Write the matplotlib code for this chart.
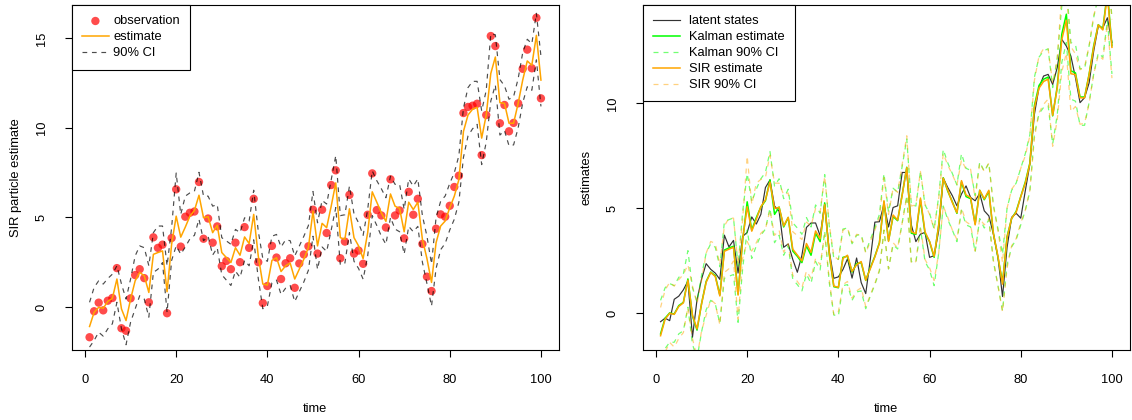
import matplotlib
matplotlib.use('Agg')
import matplotlib.pyplot as plt
import numpy as np

plt.rcParams['font.family'] = ['Liberation Sans', 'DejaVu Sans']
FS = 9.3

time = np.arange(1, 101)

# observaciones (panel izquierdo)
obs = [-1.69, -0.24, 0.24, -0.19, 0.35, 0.50, 2.17, -1.19, -1.33, 0.48,
       1.78, 2.11, 1.61, 0.26, 3.89, 3.30, 3.48, -0.35, 3.85, 6.57,
       3.37, 5.04, 5.26, 5.33, 6.98, 3.81, 4.94, 3.59, 4.50, 2.28,
       2.57, 2.11, 3.59, 2.50, 4.46, 3.30, 6.04, 2.50, 0.22, 1.17,
       3.41, 2.76, 1.56, 2.44, 2.72, 1.07, 2.43, 2.93, 3.39, 5.43,
       2.98, 5.43, 4.13, 6.81, 7.63, 2.72, 3.65, 6.26, 2.98, 3.15,
       2.41, 5.15, 7.46, 5.41, 5.11, 4.44, 7.13, 5.11, 5.39, 3.83,
       6.43, 5.15, 6.04, 3.52, 1.69, 0.89, 4.37, 5.17, 5.04, 5.65,
       6.70, 7.33, 10.83, 11.17, 11.24, 11.35, 8.48, 10.72, 15.13, 14.57,
       10.26, 11.28, 9.81, 10.28, 11.37, 13.30, 14.37, 13.33, 16.15, 11.65]

# estimacion SIR y su IC 90%
sir_est = [-1.09, -0.30, -0.02, -0.07, 0.31, 0.48, 1.56, -0.11, -0.76, 0.44,
           1.46, 1.93, 1.74, 0.81, 2.94, 3.04, 3.13, 0.85, 3.50, 5.07,
           3.90, 4.46, 5.07, 5.39, 6.24, 4.98, 5.04, 4.15, 4.56, 3.04,
           2.76, 2.48, 3.31, 2.89, 3.91, 3.54, 5.17, 2.85, 1.28, 1.22,
           2.60, 2.75, 1.98, 2.30, 2.45, 1.56, 2.11, 2.67, 3.32, 5.35,
           3.41, 4.67, 4.43, 5.63, 6.93, 3.87, 3.78, 5.48, 3.87, 3.41,
           2.70, 4.15, 6.43, 5.85, 5.26, 4.78, 6.31, 5.63, 5.50, 4.20,
           5.85, 5.44, 5.85, 3.78, 2.70, 1.37, 3.59, 4.52, 4.80, 5.54,
           6.19, 7.11, 9.80, 10.72, 11.04, 11.15, 9.43, 10.72, 13.04, 13.96,
           11.41, 11.37, 10.26, 10.26, 11.37, 12.67, 13.74, 13.50, 15.17, 12.67]
sir_lo = [-2.24, -1.87, -1.41, -1.63, -1.22, -0.94, 0.26, -1.22, -2.11, -0.85,
          -0.11, 0.63, 0.44, -0.57, 1.93, 2.11, 2.48, -0.30, 2.60, 3.41,
          2.95, 3.35, 3.80, 4.00, 4.90, 3.70, 3.95, 2.90, 3.30, 1.80,
          1.50, 1.20, 2.00, 1.65, 2.60, 2.30, 3.75, 1.60, -0.10, 0.05,
          1.35, 1.50, 0.70, 1.05, 1.20, 0.30, 0.85, 1.40, 2.05, 3.95,
          2.10, 3.35, 3.10, 4.30, 5.55, 2.35, 2.45, 4.15, 2.55, 2.15,
          1.55, 2.85, 5.10, 4.55, 3.95, 3.50, 5.00, 4.35, 4.20, 2.95,
          4.50, 4.20, 4.50, 2.50, 1.30, 0.05, 2.15, 3.20, 3.55, 4.30,
          4.90, 5.85, 8.35, 9.55, 9.95, 10.20, 7.95, 9.20, 11.50, 12.40,
          9.60, 9.85, 9.00, 9.05, 10.00, 11.40, 12.30, 12.10, 13.80, 11.20]
sir_hi = [0.26, 1.09, 1.46, 1.28, 1.59, 1.83, 2.30, 1.28, 0.44, 1.56,
          2.85, 3.41, 3.31, 2.30, 4.15, 4.52, 4.52, 2.30, 4.43, 7.48,
          5.17, 6.19, 6.37, 6.46, 7.52, 6.19, 6.19, 5.63, 5.72, 3.87,
          3.69, 3.50, 4.33, 4.15, 4.98, 4.80, 6.52, 4.24, 2.70, 2.55,
          3.95, 4.05, 3.35, 3.75, 3.70, 2.85, 3.40, 3.95, 4.55, 6.45,
          4.70, 5.95, 5.75, 7.10, 8.45, 5.10, 5.15, 6.75, 5.20, 4.70,
          4.00, 5.45, 7.60, 7.05, 6.60, 6.10, 7.30, 6.85, 6.85, 5.45,
          7.15, 6.75, 7.15, 5.10, 3.95, 2.40, 5.00, 5.90, 6.20, 6.90,
          7.50, 8.45, 11.10, 12.25, 12.60, 12.60, 10.95, 12.10, 15.25, 15.20,
          12.70, 12.35, 11.60, 11.75, 12.75, 14.20, 14.95, 14.70, 16.40, 14.00]

# estados latentes y filtro de Kalman (panel derecho)
latent = [-0.42, -0.25, -0.37, 0.65, 0.80, 1.10, 1.52, -1.16, 0.63, 1.62,
          2.35, 2.08, 1.90, 1.60, 3.71, 3.15, 3.46, 1.90, 3.65, 3.84,
          4.58, 4.24, 4.70, 5.98, 6.34, 5.10, 4.85, 3.13, 3.29, 2.55,
          1.94, 2.75, 4.08, 4.29, 4.29, 3.68, 5.19, 2.95, 1.65, 1.72,
          2.07, 2.58, 1.66, 2.62, 1.45, 0.92, 2.55, 4.33, 4.35, 5.17,
          4.10, 5.03, 5.11, 6.70, 6.70, 4.20, 3.40, 3.76, 3.84, 2.65,
          2.73, 3.92, 6.43, 5.98, 5.59, 5.11, 5.67, 6.06, 5.51, 5.35,
          5.70, 4.87, 4.63, 3.76, 2.65, 0.78, 3.13, 4.56, 4.75, 4.52,
          5.83, 7.10, 9.48, 10.75, 11.30, 11.38, 10.90, 11.70, 13.05, 12.73,
          12.25, 11.22, 10.03, 10.27, 10.98, 12.49, 13.68, 13.60, 14.08, 12.90]
kal_est = [-1.00, -0.25, 0.00, -0.05, 0.35, 0.50, 1.62, -0.15, -0.82, 0.45,
           1.50, 1.95, 1.78, 0.85, 3.00, 3.10, 3.18, 0.90, 3.45, 5.30,
           3.95, 4.55, 5.05, 5.35, 6.35, 4.70, 5.05, 4.10, 4.55, 2.95,
           2.70, 2.40, 3.20, 2.75, 3.80, 3.40, 5.25, 2.80, 1.25, 1.20,
           2.65, 2.70, 1.95, 2.35, 2.40, 1.55, 2.15, 2.70, 3.35, 5.30,
           3.45, 4.60, 4.40, 5.65, 6.95, 3.80, 3.75, 5.40, 3.80, 3.40,
           2.65, 4.20, 6.45, 5.80, 5.30, 4.75, 6.25, 5.55, 5.45, 4.25,
           5.85, 5.40, 5.80, 3.80, 2.65, 1.45, 3.65, 4.50, 4.85, 5.55,
           6.25, 7.15, 9.90, 10.85, 11.15, 11.25, 9.40, 10.80, 13.30, 14.25,
           11.55, 11.45, 10.30, 10.30, 11.40, 12.75, 13.75, 13.55, 15.30, 12.75]
kal_lo = [-2.60, -1.70, -1.40, -1.40, -1.00, -0.85, 0.27, -1.50, -2.17, -0.90,
          0.15, 0.60, 0.43, -0.50, 1.65, 1.75, 1.83, -0.45, 2.10, 3.95,
          2.60, 3.20, 3.70, 4.00, 5.00, 3.35, 3.70, 2.75, 3.20, 1.60,
          1.35, 1.05, 1.85, 1.40, 2.45, 2.05, 3.90, 1.45, -0.10, -0.15,
          1.30, 1.35, 0.60, 1.00, 1.05, 0.20, 0.80, 1.35, 2.00, 3.95,
          2.10, 3.25, 3.05, 4.30, 5.60, 2.45, 2.40, 4.05, 2.45, 2.05,
          1.30, 2.85, 5.10, 4.45, 3.95, 3.40, 4.90, 4.20, 4.10, 2.90,
          4.50, 4.05, 4.45, 2.45, 1.30, 0.10, 2.30, 3.15, 3.50, 4.20,
          4.90, 5.80, 8.55, 9.50, 9.80, 9.90, 8.05, 9.45, 11.95, 12.90,
          10.20, 10.10, 8.95, 8.95, 10.05, 11.40, 12.40, 12.20, 13.95, 11.40]
kal_hi = [0.60, 1.20, 1.40, 1.30, 1.70, 1.85, 2.97, 1.20, 0.53, 1.80,
          2.85, 3.30, 3.13, 2.20, 4.35, 4.45, 4.53, 2.25, 4.80, 6.65,
          5.30, 5.90, 6.40, 6.70, 7.70, 6.05, 6.40, 5.45, 5.90, 4.30,
          4.05, 3.75, 4.55, 4.10, 5.15, 4.75, 6.60, 4.15, 2.60, 2.55,
          4.00, 4.05, 3.30, 3.70, 3.75, 2.90, 3.50, 4.05, 4.70, 6.65,
          4.80, 5.95, 5.75, 7.00, 8.30, 5.15, 5.10, 6.75, 5.15, 4.75,
          4.00, 5.55, 7.80, 7.15, 6.65, 6.10, 7.60, 6.90, 6.80, 5.60,
          7.20, 6.75, 7.15, 5.15, 4.00, 2.80, 5.00, 5.85, 6.20, 6.90,
          7.60, 8.50, 11.25, 12.20, 12.50, 12.60, 10.75, 12.15, 14.65, 15.60,
          12.90, 12.80, 11.65, 11.65, 12.75, 14.10, 15.10, 14.90, 16.65, 14.10]


def r_range(vals):
    lo, hi = min(vals), max(vals)
    d = 0.04 * (hi - lo)
    return lo - d, hi + d


def estilo_r(ax, yticks, ylabel):
    ax.set_xlim(r_range(list(time)))
    ax.set_xticks([0, 20, 40, 60, 80, 100])
    ax.set_yticks(yticks)
    for sp in ax.spines.values():
        sp.set_linewidth(0.8)
        sp.set_color('black')
    ax.tick_params(direction='out', length=5, width=0.8, labelsize=FS, pad=12)
    for lab in ax.get_yticklabels():
        lab.set_rotation(90)
        lab.set_va('center')
    ax.set_xlabel('time', fontsize=FS, labelpad=12.5)
    ax.set_ylabel(ylabel, fontsize=FS, labelpad=10)


def leyenda(ax, htp):
    leg = ax.legend(loc='upper left', bbox_to_anchor=(0, 1), borderaxespad=0,
                    fancybox=False, framealpha=1, edgecolor='black',
                    fontsize=FS, borderpad=0.8, handlelength=2.1,
                    handletextpad=htp, labelspacing=0.3)
    leg.get_frame().set_linewidth(0.8)


fig = plt.figure(figsize=(11.32, 4.2), dpi=100)
ax1 = fig.add_axes([71.5 / 1132, 70 / 420, 487.5 / 1132, 345 / 420])
ax2 = fig.add_axes([642.5 / 1132, 70 / 420, 487.5 / 1132, 345 / 420])

# panel izquierdo
ax1.scatter(time, obs, s=36, color='red', alpha=0.7, edgecolors='none',
            label='observation', zorder=2)
ax1.plot(time, sir_est, color='orange', lw=1.1, label='estimate', zorder=3)
ax1.plot(time, sir_lo, color='black', lw=0.85, dashes=(4, 4), alpha=0.7,
         label='90% CI', zorder=4)
ax1.plot(time, sir_hi, color='black', lw=0.85, dashes=(4, 4), alpha=0.7, zorder=4)
ax1.set_ylim(r_range(obs))
estilo_r(ax1, [0, 5, 10, 15], 'SIR particle estimate')
leyenda(ax1, 0.35)

# panel derecho
ax2.plot(time, latent, color='black', lw=0.85, alpha=0.8, label='latent states')
ax2.plot(time, kal_est, color='#00FF00', lw=1.1, label='Kalman estimate')
ax2.plot(time, kal_lo, color='#00FF00', lw=0.9, dashes=(4, 4), alpha=0.55,
         label='Kalman 90% CI')
ax2.plot(time, kal_hi, color='#00FF00', lw=0.9, dashes=(4, 4), alpha=0.55)
ax2.plot(time, sir_est, color='orange', lw=1.1, label='SIR estimate')
ax2.plot(time, sir_lo, color='orange', lw=0.9, dashes=(4, 4), alpha=0.5,
         label='SIR 90% CI')
ax2.plot(time, sir_hi, color='orange', lw=0.9, dashes=(4, 4), alpha=0.5)
ax2.set_ylim(r_range(latent))
estilo_r(ax2, [0, 5, 10], 'estimates')
leyenda(ax2, 0.7)

fig.savefig('out.png', dpi=100, facecolor='white')
